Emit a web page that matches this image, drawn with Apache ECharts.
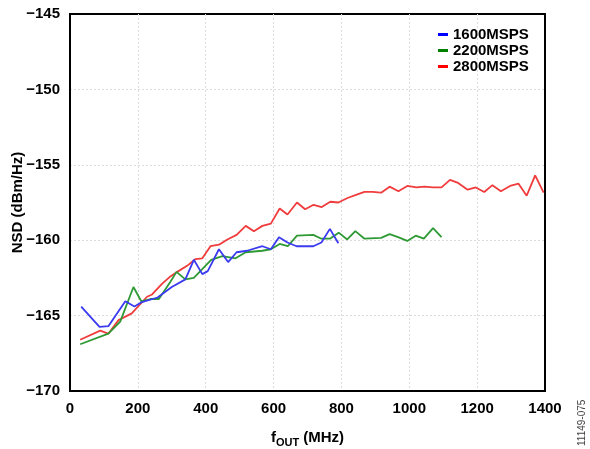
<!DOCTYPE html>
<html><head><meta charset="utf-8">
<script src="https://cdn.jsdelivr.net/npm/echarts@6/dist/echarts.min.js"></script>
<style>html,body{margin:0;padding:0;background:#fff}#c{width:590px;height:449px}</style>
</head><body><div id="c"></div>
<script>
var seriesNames = ['1600MSPS', '2200MSPS', '2800MSPS'];
var xTicks = [0, 200, 400, 600, 800, 1000, 1200, 1400];
var yTicks = [-170, -165, -160, -155, -150, -145];

var blueFreq = [33, 87, 113, 163, 190, 212, 258, 300, 340, 365, 390, 406, 439, 466, 491, 522, 567, 592, 616, 641, 668, 717, 741, 766, 791];
var blueNSD = [-164.4, -165.75, -165.7, -164.05, -164.4, -164.1, -163.8, -163.1, -162.6, -161.3, -162.25, -162.05, -160.6, -161.45, -160.8, -160.7, -160.4, -160.6, -159.8, -160.15, -160.4, -160.4, -160.15, -159.25, -160.2];

var greenFreq = [30, 113, 148, 187, 210, 237, 262, 296, 314, 340, 365, 416, 449, 488, 518, 567, 592, 618, 642, 669, 717, 741, 766, 792, 817, 841, 868, 917, 942, 967, 994, 1019, 1043, 1070, 1095];
var greenNSD = [-166.9, -166.2, -165.4, -163.1, -164.05, -163.9, -163.9, -162.75, -162.1, -162.6, -162.5, -161.3, -161.05, -161.2, -160.8, -160.7, -160.6, -160.25, -160.4, -159.7, -159.65, -159.9, -159.9, -159.5, -159.95, -159.4, -159.9, -159.85, -159.6, -159.8, -160.05, -159.7, -159.9, -159.2, -159.8];

var redFreq = [30, 89, 113, 143, 182, 227, 242, 271, 296, 316, 345, 370, 390, 414, 439, 464, 491, 518, 542, 567, 592, 618, 641, 669, 693, 718, 742, 767, 791, 818, 843, 868, 892, 917, 942, 968, 994, 1021, 1045, 1070, 1095, 1120, 1144, 1172, 1196, 1221, 1245, 1270, 1297, 1322, 1346, 1371, 1396];
var redNSD = [-166.6, -166.0, -166.2, -165.3, -164.85, -163.75, -163.6, -162.9, -162.4, -162.1, -161.7, -161.25, -161.2, -160.4, -160.3, -159.95, -159.65, -159.05, -159.4, -159.05, -158.9, -157.9, -158.3, -157.5, -157.95, -157.65, -157.8, -157.45, -157.5, -157.2, -157.0, -156.8, -156.8, -156.85, -156.45, -156.75, -156.4, -156.5, -156.45, -156.5, -156.5, -156.0, -156.2, -156.65, -156.5, -156.8, -156.35, -156.75, -156.4, -156.25, -157.05, -155.7, -156.85];

function pairs(xs, ys) { return xs.map(function (x, i) { return [x, ys[i]]; }); }
var colors = ['#3a3af0', '#2f9a35', '#f03c3c'];
var legendColors = ['#0000ff', '#008000', '#ff0000'];
var FONT = 'Liberation Sans, Arial, sans-serif';

var chart = echarts.init(document.getElementById('c'), null, { renderer: 'canvas' });
chart.setOption({
  animation: false,
  backgroundColor: '#fff',
  grid: { left: 70, top: 14, right: 45, bottom: 58, show: true, borderColor: '#000', borderWidth: 2, containLabel: false, outerBoundsMode: 'none' },
  legend: {
    orient: 'vertical', left: 433, top: 22, itemGap: 1, itemWidth: 10, itemHeight: 3, icon: 'rect',
    textStyle: { fontFamily: FONT, fontWeight: 'bold', fontSize: 15, color: '#000', lineHeight: 15 },
    data: seriesNames.map(function (n, i) { return { name: n, itemStyle: { color: legendColors[i] } }; })
  },
  xAxis: {
    type: 'value', min: xTicks[0], max: xTicks[xTicks.length - 1], interval: 200,
    axisLine: { show: true, lineStyle: { color: '#000', width: 2 } },
    axisTick: { show: false },
    axisLabel: { fontFamily: FONT, fontWeight: 'bold', fontSize: 15, color: '#000', margin: 10,
      formatter: function (v) { return String(v); } },
    splitLine: { show: true, showMinLine: false, showMaxLine: false, lineStyle: { color: '#dcdcdc', type: [2, 2], width: 1 } },
    name: '{a|f}{s|OUT}{a| (MHz)}', nameLocation: 'middle', nameGap: 39,
    nameTextStyle: {
      rich: {
        a: { fontFamily: FONT, fontWeight: 'bold', fontSize: 15, color: '#000', verticalAlign: 'top', lineHeight: 18 },
        s: { fontFamily: FONT, fontWeight: 'bold', fontSize: 11, color: '#000', verticalAlign: 'bottom', padding: [8, 0, 0, 0], lineHeight: 18 }
      }
    }
  },
  yAxis: {
    type: 'value', min: yTicks[0], max: yTicks[yTicks.length - 1], interval: 5,
    axisLine: { show: true, lineStyle: { color: '#000', width: 2 } },
    axisTick: { show: false },
    axisLabel: { fontFamily: FONT, fontWeight: 'bold', fontSize: 15, color: '#000', margin: 10,
      formatter: function (v) { return String(v).replace('-', '\u2212'); } },
    splitLine: { show: true, showMinLine: false, showMaxLine: false, lineStyle: { color: '#dcdcdc', type: [2, 2], width: 1 } },
    name: 'NSD (dBm/Hz)', nameLocation: 'middle', nameGap: 45, nameRotate: 90, nameMoveOverlap: false,
    nameTextStyle: { fontFamily: FONT, fontWeight: 'bold', fontSize: 15, color: '#000' }
  },
  series: [
    { name: seriesNames[0], type: 'line', data: pairs(blueFreq, blueNSD), showSymbol: false, symbol: 'none', lineStyle: { color: colors[0], width: 1.8 }, itemStyle: { color: colors[0] }, z: 4 },
    { name: seriesNames[1], type: 'line', data: pairs(greenFreq, greenNSD), showSymbol: false, symbol: 'none', lineStyle: { color: colors[1], width: 1.8 }, itemStyle: { color: colors[1] }, z: 3 },
    { name: seriesNames[2], type: 'line', data: pairs(redFreq, redNSD), showSymbol: false, symbol: 'none', lineStyle: { color: colors[2], width: 1.8 }, itemStyle: { color: colors[2] }, z: 2 }
  ],
  graphic: [{
    type: 'text', x: 577, y: 446, rotation: Math.PI / 2,
    style: { text: '11149-075', fontFamily: FONT, fontSize: 10, fill: '#444', textAlign: 'left', textVerticalAlign: 'top' }
  }]
});
</script></body></html>
